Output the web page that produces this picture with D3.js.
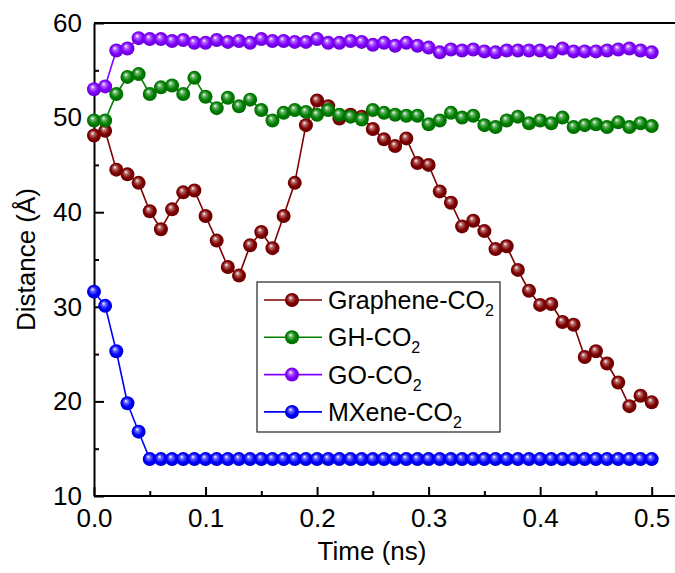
<!DOCTYPE html>
<html lang="en">
<head>
<meta charset="UTF-8">
<title>Distance vs time</title>
<script src="https://d3js.org/d3.v7.min.js"></script>
<style>
  body { margin: 0; background: #fff; }
  svg { display: block; font-family: "Liberation Sans", Arial, sans-serif; }
  .axis path, .axis line { stroke: #000; stroke-width: 2; }
  .axis text { font-size: 26px; fill: #000; }
</style>
</head>
<body>
<svg id="chart" width="675" height="573"></svg>
<script>
// data
const times = [0.00, 0.01, 0.02, 0.03, 0.04, 0.05, 0.06, 0.07, 0.08, 0.09,
  0.10, 0.11, 0.12, 0.13, 0.14, 0.15, 0.16, 0.17, 0.18, 0.19,
  0.20, 0.21, 0.22, 0.23, 0.24, 0.25, 0.26, 0.27, 0.28, 0.29,
  0.30, 0.31, 0.32, 0.33, 0.34, 0.35, 0.36, 0.37, 0.38, 0.39,
  0.40, 0.41, 0.42, 0.43, 0.44, 0.45, 0.46, 0.47, 0.48, 0.49, 0.50];

const graphene = [48.1, 48.6, 44.5, 44.0, 43.1, 40.1, 38.2, 40.3, 42.1, 42.3,
  39.6, 37.0, 34.2, 33.3, 36.5, 37.9, 36.2, 39.6, 43.1, 49.2,
  51.8, 51.2, 49.9, 50.3, 50.1, 48.8, 47.7, 47.0, 47.8, 45.2,
  45.0, 42.2, 41.0, 38.5, 39.1, 38.0, 36.1, 36.4, 33.9, 31.7,
  30.2, 30.3, 28.4, 28.1, 24.7, 25.3, 24.0, 22.0, 19.5, 20.6, 19.9];

const gh = [49.7, 49.7, 52.5, 54.3, 54.6, 52.5, 53.2, 53.4, 52.5, 54.2,
  52.2, 51.0, 52.1, 51.2, 51.9, 50.8, 49.7, 50.5, 50.8, 50.6,
  50.3, 50.8, 50.3, 50.1, 49.8, 50.8, 50.5, 50.3, 50.2, 50.2,
  49.3, 49.7, 50.5, 50.0, 50.2, 49.2, 49.0, 49.7, 50.1, 49.4,
  49.7, 49.4, 50.0, 49.0, 49.2, 49.3, 49.0, 49.5, 49.0, 49.4, 49.1];

const go = [53.0, 53.3, 57.1, 57.3, 58.4, 58.3, 58.3, 58.1, 58.2, 57.9,
  57.9, 58.2, 58.0, 58.1, 57.9, 58.3, 58.1, 58.1, 58.0, 58.0,
  58.3, 57.9, 57.9, 58.1, 58.0, 57.7, 57.9, 57.6, 57.9, 57.6,
  57.4, 56.9, 57.2, 57.1, 57.2, 57.0, 56.9, 57.1, 57.1, 57.1,
  57.1, 56.9, 57.3, 57.0, 57.0, 57.0, 57.1, 57.2, 57.3, 57.1, 56.9];

const mxene = [31.6, 30.1, 25.3, 19.8, 16.8, 13.9, 13.9, 13.9, 13.9, 13.9,
  13.9, 13.9, 13.9, 13.9, 13.9, 13.9, 13.9, 13.9, 13.9, 13.9,
  13.9, 13.9, 13.9, 13.9, 13.9, 13.9, 13.9, 13.9, 13.9, 13.9,
  13.9, 13.9, 13.9, 13.9, 13.9, 13.9, 13.9, 13.9, 13.9, 13.9,
  13.9, 13.9, 13.9, 13.9, 13.9, 13.9, 13.9, 13.9, 13.9, 13.9, 13.9];

const seriesNames = ["Graphene-CO", "GH-CO", "GO-CO", "MXene-CO"];
const seriesColors = ["#800000", "#008000", "#8000ff", "#0000ff"];
const seriesValues = [graphene, gh, go, mxene];

const xTicks = [0.0, 0.1, 0.2, 0.3, 0.4, 0.5];
const xMinor = [0.05, 0.15, 0.25, 0.35, 0.45];
const yTicks = [10, 20, 30, 40, 50, 60];
const yMinor = [15, 25, 35, 45, 55];

const svg = d3.select("#chart");
const width = +svg.attr("width");
const height = +svg.attr("height");
const margin = { top: 23, right: 1, bottom: 77, left: 94 };

const x = d3.scaleLinear().domain([0, 0.52]).range([margin.left, width - margin.right]);
const y = d3.scaleLinear().domain([10, 60]).range([height - margin.bottom, margin.top]);

// shiny ball gradients
const defs = svg.append("defs");
seriesColors.forEach((c, i) => {
  const g = defs.append("radialGradient")
    .attr("id", "ball" + i)
    .attr("cx", "50%").attr("cy", "50%").attr("r", "55%")
    .attr("fx", "38%").attr("fy", "32%");
  g.append("stop").attr("offset", "0%").attr("stop-color", "#ffffff");
  g.append("stop").attr("offset", "25%").attr("stop-color", d3.interpolateRgb("#ffffff", c)(0.6));
  g.append("stop").attr("offset", "60%").attr("stop-color", c);
  g.append("stop").attr("offset", "100%").attr("stop-color", d3.color(c).darker(0.7));
});

// frame top
svg.append("line")
  .attr("x1", margin.left).attr("x2", width)
  .attr("y1", margin.top).attr("y2", margin.top)
  .attr("stroke", "#000").attr("stroke-width", 2);

// axes
svg.append("g").attr("class", "axis")
  .attr("transform", `translate(0,${height - margin.bottom})`)
  .call(d3.axisBottom(x).tickValues(xTicks).tickFormat(d3.format(".1f"))
    .tickSizeInner(-9).tickSizeOuter(0).tickPadding(13))
  .select(".domain").attr("d", `M${margin.left},0H${width}`);

svg.append("g").attr("class", "axis")
  .attr("transform", `translate(0,${height - margin.bottom})`)
  .call(d3.axisBottom(x).tickValues(xMinor).tickFormat("").tickSizeInner(-5).tickSizeOuter(0))
  .select(".domain").remove();

svg.append("g").attr("class", "axis")
  .attr("transform", `translate(${margin.left},0)`)
  .call(d3.axisLeft(y).tickValues(yTicks).tickFormat(d3.format("d"))
    .tickSizeInner(-10).tickSizeOuter(0).tickPadding(12));

svg.append("g").attr("class", "axis")
  .attr("transform", `translate(${margin.left},0)`)
  .call(d3.axisLeft(y).tickValues(yMinor).tickFormat("").tickSizeInner(-5).tickSizeOuter(0))
  .select(".domain").remove();

// axis titles
svg.append("text")
  .attr("x", (margin.left + width - margin.right) / 2 - 12)
  .attr("y", 560)
  .attr("text-anchor", "middle")
  .attr("font-size", 26)
  .text("Time (ns)");

svg.append("text")
  .attr("transform", `translate(35,${(margin.top + height - margin.bottom) / 2}) rotate(-90)`)
  .attr("text-anchor", "middle")
  .attr("font-size", 26)
  .text("Distance (Å)");

// series
const line = d3.line().x((d, i) => x(times[i])).y(d => y(d));

seriesValues.forEach((vals, s) => {
  const g = svg.append("g");
  g.append("path")
    .datum(vals)
    .attr("d", line)
    .attr("fill", "none")
    .attr("stroke", seriesColors[s])
    .attr("stroke-width", 1.6);
  g.selectAll("circle")
    .data(vals)
    .enter().append("circle")
    .attr("cx", (d, i) => x(times[i]))
    .attr("cy", d => y(d))
    .attr("r", 7)
    .attr("fill", `url(#ball${s})`);
});

// legend
const legend = svg.append("g").attr("transform", "translate(257,282)");
legend.append("rect")
  .attr("width", 243).attr("height", 150)
  .attr("fill", "#fff").attr("stroke", "#222").attr("stroke-width", 1.2);

seriesNames.forEach((name, i) => {
  const row = legend.append("g").attr("transform", `translate(0,${18 + i * 37.3})`);
  row.append("line")
    .attr("x1", 7).attr("x2", 65)
    .attr("stroke", seriesColors[i]).attr("stroke-width", 1.6);
  row.append("circle")
    .attr("cx", 35).attr("r", 7)
    .attr("fill", `url(#ball${i})`);
  const t = row.append("text")
    .attr("x", 71).attr("y", 9)
    .attr("font-size", 25);
  t.append("tspan").text(name);
  t.append("tspan").attr("font-size", 16).attr("dy", 7).text("2");
});
</script>
</body>
</html>
